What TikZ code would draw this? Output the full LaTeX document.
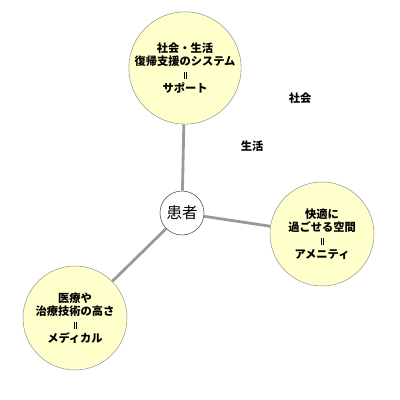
\documentclass[tikz,border=0pt]{standalone}
\usepackage{fontspec}
\newfontfamily\jpfont{Noto Sans CJK JP}
\usepackage{tikz}
\usetikzlibrary{positioning}
\definecolor{circfill}{HTML}{FFFFCC}
\definecolor{linegray}{HTML}{999999}
\newcommand{\eqbar}{\rule{0.45pt}{5pt}\hspace{0.9pt}\rule{0.45pt}{5pt}}
\tikzset{%
	bigcircle/.style = {draw=linegray, fill=circfill, circle, minimum size=104*0.025cm, inner sep=0pt, align=center, font=\jpfont\bfseries\fontsize{8pt}{9.4pt}\selectfont},
	patient/.style   = {draw=black!70, fill=white, circle, minimum size=44*0.025cm, inner sep=0pt, font=\jpfont\fontsize{11pt}{12pt}\selectfont},
	label/.style     = {font=\jpfont\bfseries\fontsize{8pt}{9pt}\selectfont},
	link/.style      = {draw=linegray, line width=2pt},
}
\begin{document}
\begin{tikzpicture}[x=0.025cm,y=-0.025cm]
	\useasboundingbox (0,0) rectangle (400,400);
	\node[bigcircle] (support) at (185,68) {社会・生活\\復帰支援のシステム\\\eqbar\\サポート};
	\node[bigcircle] (amenity) at (322,234) {快適に\\過ごせる空間\\\eqbar\\アメニティ};
	\node[bigcircle] (medical) at (75,318) {医療や\\治療技術の高さ\\\eqbar\\メディカル};
	\node[patient] (kanja) at (182,213) {患者};
	\draw[link] (kanja) -- (support);  % up
	\draw[link] (kanja) -- (amenity);  % right
	\draw[link] (kanja) -- (medical);  % down left
	\node[label] (shakai) at (300,98) {社会};
	\node[label] (seikatsu) at (252,146) {生活};
\end{tikzpicture}
\end{document}
